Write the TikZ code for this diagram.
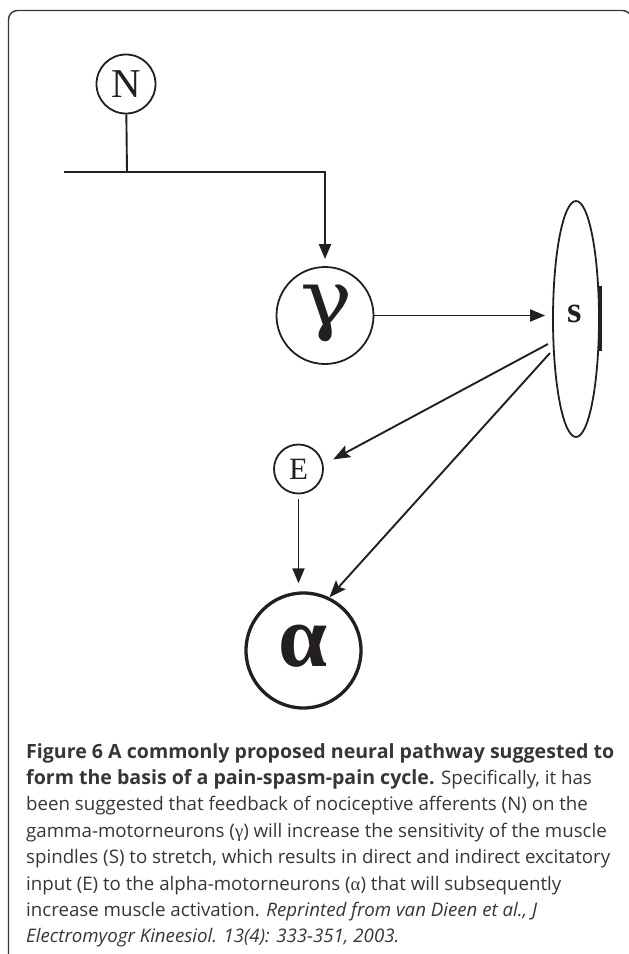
\documentclass[tikz,border=0pt]{standalone}
\usepackage{fontspec}
\setmainfont{Liberation Serif}
\newfontfamily\capfont{Open Sans}
\newfontfamily\greekfont{DejaVu Serif}
\usetikzlibrary{arrows.meta,shapes.geometric}
\definecolor{ink}{HTML}{231F20}
\definecolor{captxt}{HTML}{363636}
\newlength\capwA
\newlength\capwB
\begin{document}
\settowidth\capwA{\capfont\fontsize{10}{10}\selectfont\bfseries Figure 6 A commonly proposed neural pathway suggested to}%
\settowidth\capwB{\capfont\fontsize{10}{10}\selectfont spindles (S) to stretch, which results in direct and indirect excitatory}%
\pgfmathsetmacro\capbsize{10*588/\capwA}%
\pgfmathsetmacro\caprsize{10*584/\capwB}%
\begin{tikzpicture}[x=1pt,y=-1pt,
  circ/.style={draw=ink, circle, line width=1.8pt, inner sep=0pt, text=ink},
  conn/.style={draw=ink, line width=1.9pt},
  arr/.style={conn, -{Triangle[length=15pt,width=12pt]}},
  darr/.style={conn, -{Stealth[length=17pt,width=13pt,inset=3pt]}},
  glyph/.style={inner sep=0pt, text=ink},
  capline/.style={anchor=base west, inner sep=0pt, text=captxt, font=\capfont\fontsize{\caprsize}{26}\selectfont},
  capbold/.style={font=\capfont\fontsize{\capbsize}{26}\selectfont\bfseries}
]
\useasboundingbox (0,0) rectangle (629,954);
\begin{scope}
\clip (0,0) rectangle (629,954);
\draw[ink!90, line width=1.4pt, rounded corners=9pt] (8.5,10.5) rectangle (631.5,975);
\end{scope}
% nodes
\node[circ, minimum size=59pt, font=\fontsize{41}{41}\selectfont] (N) at (126,84) {N};
\node[circ, minimum size=97pt] (g) at (325,315.5) {};
\node[glyph, font=\greekfont\fontsize{78}{78}\selectfont, xscale=1.12] (glab) at (327,313) {γ};
\node[draw=ink, ellipse, line width=1.8pt, minimum width=46pt, minimum height=236pt, inner sep=0pt] (S) at (576,319) {};
\node[glyph, font=\bfseries\fontsize{37}{37}\selectfont] (Slab) at (575,313.5) {s};
\node[circ, minimum size=49pt, font=\fontsize{31}{31}\selectfont] (E) at (298.5,469) {E};
\node[circ, line width=3.3pt, minimum size=115pt] (a) at (303.5,650.5) {};
\node[glyph, font=\bfseries\fontsize{88}{88}\selectfont] (alab) at (303.5,646.5) {α};
% extra thick bit of the spindle outline
\draw[ink, line width=3.6pt] ([yshift=-32pt]S.east) -- ([yshift=33pt]S.east);
% coordinates
\coordinate (bl) at (64,172);
\coordinate (j) at (127,172);
\coordinate (s1) at (548,344);
\coordinate (s2) at (550,353);
% connectors
\draw[conn] (N) -- (j);
\draw[arr, shorten >=7pt] (bl) -| (g);
\draw[arr, shorten >=7pt] (g.east) -- (g.east -| S.west);
\draw[darr, shorten >=11pt] (s1) -- (E.10);
\draw[darr] (s2) -- (a.64);
\draw[arr, shorten <=5pt, shorten >=8pt] (E.south) -- (E.south |- a.north);
% caption
\node[capline, capbold] (c1) at (26,758) {Figure 6 A commonly proposed neural pathway suggested to};
\node[capline] (c2) at (26,784.4) {{\fontsize{\capbsize}{26}\selectfont\bfseries form the basis of a pain-spasm-pain cycle.} Specifically, it has};
\node[capline] (c3) at (26,810.8) {been suggested that feedback of nociceptive afferents (N) on the};
\node[capline] (c4) at (26,837.2) {gamma-motorneurons ({\rmfamily γ}) will increase the sensitivity of the muscle};
\node[capline] (c5) at (26,863.6) {spindles (S) to stretch, which results in direct and indirect excitatory};
\node[capline] (c6) at (26,890) {input (E) to the alpha-motorneurons ({\rmfamily α}) that will subsequently};
\node[capline] (c7) at (26,916.4) {increase muscle activation. \itshape Reprinted from van Dieen et al., J};
\node[capline] (c8) at (26,942.8) {\itshape Electromyogr Kineesiol. 13(4): 333-351, 2003.};
\end{tikzpicture}
\end{document}
